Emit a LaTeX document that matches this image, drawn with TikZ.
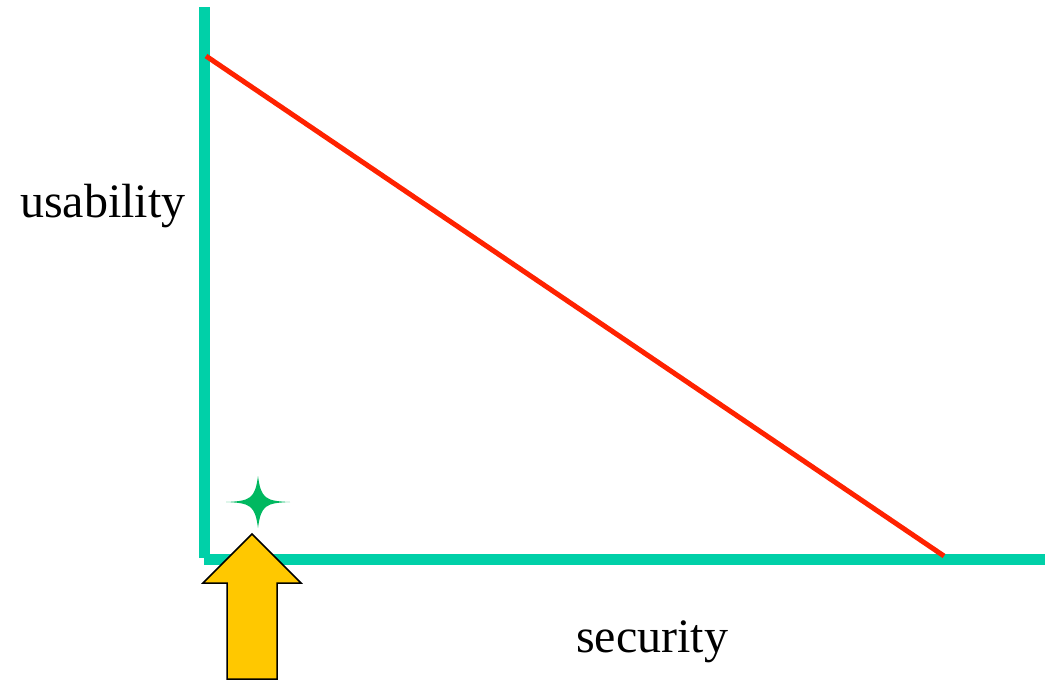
\documentclass[tikz,border=0pt]{standalone}
\usepackage{fontspec}
\setmainfont{Liberation Serif}
\definecolor{axisgreen}{HTML}{00D0A8}
\definecolor{linered}{HTML}{FF2200}
\definecolor{stargreen}{HTML}{00B860}
\definecolor{arrowyellow}{HTML}{FFC800}
\tikzset{
  axis/.style={draw=axisgreen, line width=11pt},
  trend/.style={draw=linered, line width=5pt},
  lbl/.style={inner sep=0pt, anchor=base west, font=\fontsize{48}{58}\selectfont},
}
\begin{document}
\begin{tikzpicture}[x=1pt,y=-1pt]
\useasboundingbox (0,0) rectangle (1045,681);
\coordinate (ytop) at (204,7);
\coordinate (ybot) at (204,558);
\coordinate (xl) at (204,559);
\coordinate (xr) at (1045,559);
\draw[axis] (ytop) -- (ybot);
\draw[axis] (xl) -- (xr);
\coordinate (r1) at (206,56);
\coordinate (r2) at (944,556);
\draw[trend] (r1) -- (r2);
\node[lbl] (usab) at (20,217) {usability};
\node[lbl] (sec) at (576,652) {security};
% star
\coordinate (s) at (258,502);
\fill[stargreen] (226,502) .. controls (250,503) and (255,505) .. (258,528)
  .. controls (261,505) and (266,503) .. (290,502)
  .. controls (266,501) and (261,499) .. (258,476)
  .. controls (255,499) and (250,501) .. (226,502) -- cycle;
% arrow
\draw[fill=arrowyellow, line width=1.5pt, line join=miter] (252,534) -- (301,583) -- (277,583) -- (277,679) -- (227,679) -- (227,583) -- (203,583) -- cycle;
\end{tikzpicture}
\end{document}
